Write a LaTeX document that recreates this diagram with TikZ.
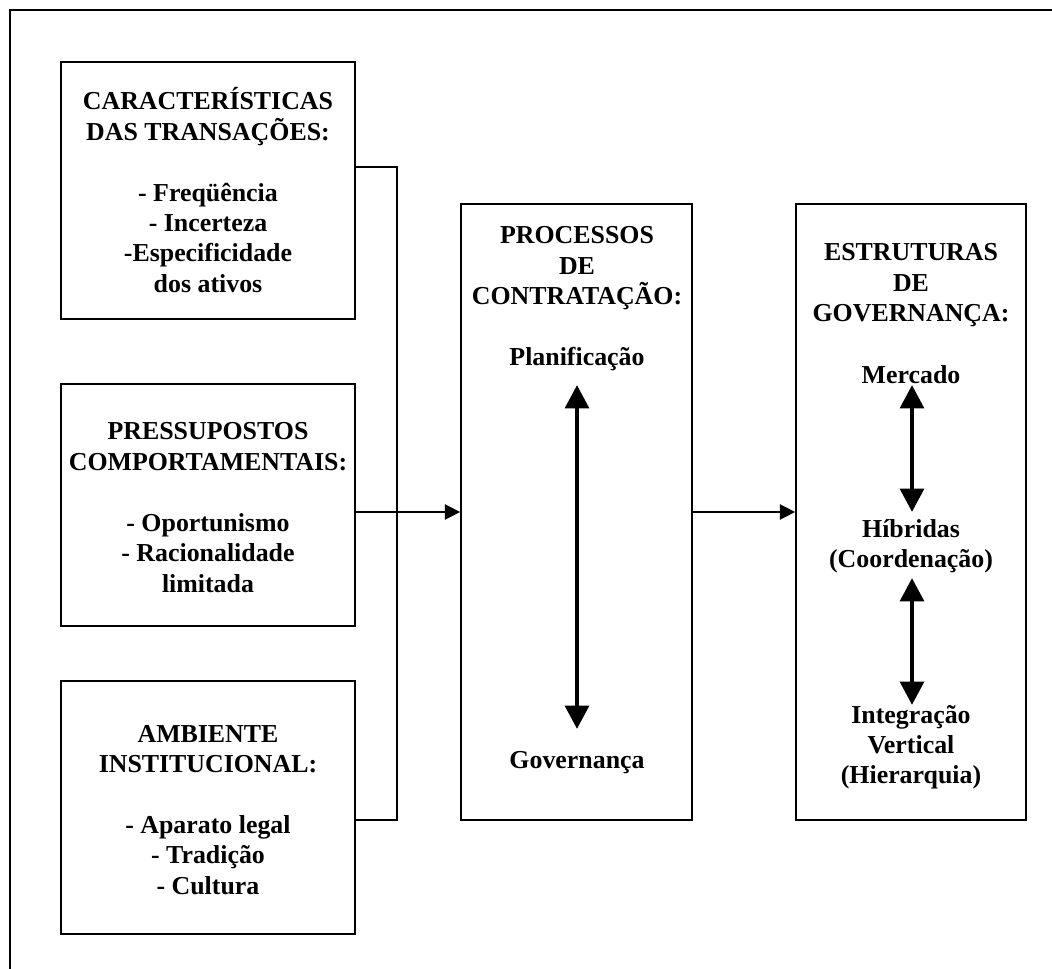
\documentclass[tikz,border=0pt]{standalone}
\usepackage{fontspec}
\setmainfont{Liberation Serif}
\usetikzlibrary{arrows.meta}

\tikzset{
  frame/.style={line width=1.6pt},
  pbox/.style 2 args={draw, line width=1.3pt, minimum width=#1*0.75pt,
    minimum height=#2*0.75pt, inner sep=0pt},
  txt/.style={anchor=base, text width=225pt, inner sep=0pt,
    execute at begin node={\centering\spaceskip=0pt\xspaceskip=0pt},
    font=\fontsize{19.4pt}{22.8pt}\selectfont\bfseries},
  link/.style={line width=1.1pt},
  flow/.style={line width=1.1pt, -{Triangle[length=11.5pt,width=11.5pt]}},
  both/.style={line width=3.6pt,
    {Triangle[length=17.5pt,width=17.5pt]}-{Triangle[length=17.5pt,width=17.5pt]}}
}

\begin{document}
\begin{tikzpicture}[x=0.75pt, y=-0.75pt]
\useasboundingbox (0,0) rectangle (1052,969);

% open outer frame: only the top and left sides are shown
\coordinate (fl) at (10,969);
\coordinate (fc) at (10,10);
\coordinate (fr) at (1052,10);
\draw[frame] (fl) -- (fc) -- (fr);

% boxes
\node[pbox={294}{257}] (b1) at (208,190.5) {};
\node[pbox={294}{242}] (b2) at (208,505) {};
\node[pbox={294}{253}] (b3) at (208,807.5) {};
\node[pbox={231}{616}] (m)  at (576.5,512) {};
\node[pbox={230}{616}] (r)  at (911,512) {};

% box texts
\node[txt] (t1) at (208,110) {CARACTERÍSTICAS\\DAS TRANSAÇÕES:\\[22.8pt]- Freqüência\\- Incerteza\\-Especificidade\\dos ativos};
\node[txt] (t2) at (208,440) {PRESSUPOSTOS\\COMPORTAMENTAIS:\\[22.8pt]- Oportunismo\\- Racionalidade\\limitada};
\node[txt] (t3) at (208,742) {AMBIENTE\\INSTITUCIONAL:\\[22.8pt]- Aparato legal\\- Tradição\\- Cultura};

\node[txt] (tm) at (577,244) {PROCESSOS\\DE\\CONTRATAÇÃO:};
\node[txt] (plan) at (577,366) {Planificação};
\node[txt] (gov) at (577,768) {Governança};

\node[txt] (tr) at (911,261) {ESTRUTURAS\\DE\\GOVERNANÇA:};
\node[txt] (merc) at (911,383) {Mercado};
\node[txt] (hib) at (911,537) {Híbridas\\(Coordenação)};
\node[txt] (integ) at (911,723) {Integração\\Vertical\\(Hierarquia)};

% bracket joining the three left boxes
\coordinate (jt) at (397,167);
\coordinate (jb) at (397,820);
\draw[link] (b1.east |- jt) -- (jt) -- (jb) -- (b3.east |- jb);

% flow arrows
\draw[flow] (b2.east |- m.west) -- (m.west);
\draw[flow] (m.east) -- (r.west);

% two-headed arrows
\draw[both] ([yshift=-14.25pt]plan.base) -- ([yshift=29.25pt]gov.base);
\draw[both] ([xshift=0.75pt,yshift=-1.5pt]merc.base) -- ([xshift=0.75pt,yshift=18.75pt]hib.base);
\draw[both] ([xshift=0.75pt,yshift=-30.75pt]hib.base) -- ([xshift=0.75pt,yshift=13.5pt]integ.base);
\end{tikzpicture}
\end{document}
